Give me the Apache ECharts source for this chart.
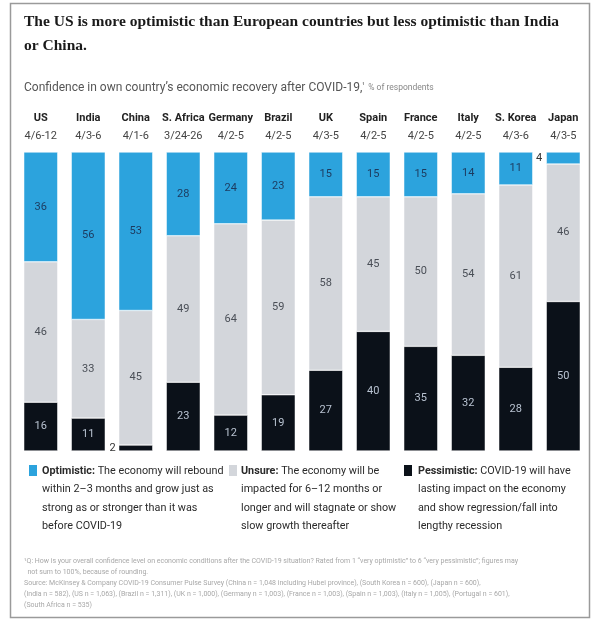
<!DOCTYPE html>
<html><head><meta charset="utf-8">
<script src="https://cdn.jsdelivr.net/npm/echarts@6/dist/echarts.min.js"></script>
<style>html,body{margin:0;padding:0;background:#fff}#c{width:597px;height:621px}</style>
</head><body><div id="c"></div>
<script>
const countries = ['US','India','China','S. Africa','Germany','Brazil','UK','Spain','France','Italy','S. Korea','Japan'];
const dates = ['4/6-12','4/3-6','4/1-6','3/24-26','4/2-5','4/2-5','4/3-5','4/2-5','4/2-5','4/2-5','4/3-6','4/3-5'];
const optimistic = [36,56,53,28,24,23,15,15,15,14,11,4];
const unsure = [46,33,45,49,64,59,58,45,50,54,61,46];
const pessimistic = [16,11,2,23,12,19,27,40,35,32,28,50];

const totals = countries.map((c,i)=>optimistic[i]+unsure[i]+pessimistic[i]);
const COL = {opt:'#2ca3dd', uns:'#d3d6db', pes:'#0b1119'};
const FONT = 'Roboto, "Noto Sans", sans-serif';

function build(arr, smallLabel){
  return arr.map((v,i)=>{
    const item = {value: v/totals[i]*100, raw: v};
    if (v < 5) item.label = Object.assign({position:'left', color:'#333'}, smallLabel);
    return item;
  });
}
function lbl(color){
  return {show:true, position:'inside', color:color, fontSize:11, fontFamily:FONT,
    formatter: p => p.data.raw};
}
const LEG_FONT = 10.8;
function legText(x, y, txt){
  return {type:'text', left:x, top:y, style:{text:txt,
    font:LEG_FONT+'px '+FONT, fill:'#2a2a2a', lineHeight:18.5,
    rich:{b:{fontWeight:'bold', fontSize:LEG_FONT, fontFamily:FONT, fill:'#2a2a2a', lineHeight:18.5}}}};
}

const chart = echarts.init(document.getElementById('c'), null, {renderer:'canvas'});
const option = {
  backgroundColor:'#fff',
  animation:false,
  grid:{left:17, right:10, top:152, bottom:170},
  xAxis:{type:'category', position:'top', data:countries,
    axisLine:{show:false}, axisTick:{show:false},
    axisLabel:{margin:7, interval:0, lineHeight:18,
      formatter:(v,i)=>'{n|'+v+'}\n{d|'+dates[i]+'}',
      rich:{n:{fontSize:11, fontWeight:'bold', color:'#222', fontFamily:FONT, lineHeight:18},
            d:{fontSize:11, color:'#444', fontFamily:FONT, lineHeight:18}}}},
  yAxis:{type:'value', min:0, max:100, show:false},
  series:[
    {name:'Pessimistic', type:'bar', stack:'s', barWidth:34, data:build(pessimistic, {distance:3}),
      itemStyle:{color:COL.pes, borderColor:'#fff', borderWidth:0.5}, label:lbl('#b9c3d1')},
    {name:'Unsure', type:'bar', stack:'s', barWidth:34, data:build(unsure, {distance:5}),
      itemStyle:{color:COL.uns, borderColor:'#fff', borderWidth:0.5}, label:lbl('#4a4f57')},
    {name:'Optimistic', type:'bar', stack:'s', barWidth:34, data:build(optimistic, {distance:4}),
      itemStyle:{color:COL.opt, borderColor:'#fff', borderWidth:0.5}, label:lbl('#1d3a5e')}
  ],
  graphic:[
    {type:'rect', shape:{x:10.5, y:3.5, width:579, height:614}, style:{fill:'none', stroke:'#9a9a9a', lineWidth:1.5}, silent:true, z:-1},
    {type:'text', left:24, top:10, style:{text:'The US is more optimistic than European countries but less optimistic than India\nor China.',
      font:'bold 15.5px "Liberation Serif", "DejaVu Serif", serif', fill:'#1a1a1a', lineHeight:24}},
    {type:'text', left:24, top:82, style:{text:'{a|Confidence in own country\u2019s economic recovery after COVID-19,}{s|\u00b9} {b|% of respondents}',
      rich:{a:{fontSize:12, fontFamily:FONT, fill:'#555'}, s:{fontSize:7, fontFamily:FONT, fill:'#555', verticalAlign:'top'}, b:{fontSize:8.5, fontFamily:FONT, fill:'#888'}}}},
    // legend
    {type:'rect', shape:{x:29, y:465, width:8, height:11}, style:{fill:COL.opt}},
    legText(42, 462, '{b|Optimistic:} The economy will rebound\nwithin 2\u20133 months and grow just as\nstrong as or stronger than it was\nbefore COVID-19'),
    {type:'rect', shape:{x:229, y:465, width:8, height:11}, style:{fill:COL.uns}},
    legText(241, 462, '{b|Unsure:} The economy will be\nimpacted for 6\u201312 months or\nlonger and will stagnate or show\nslow growth thereafter'),
    {type:'rect', shape:{x:404, y:465, width:8, height:11}, style:{fill:COL.pes}},
    legText(418, 462, '{b|Pessimistic:} COVID-19 will have\nlasting impact on the economy\nand show regression/fall into\nlengthy recession'),
    // footnotes
    {type:'text', left:24, top:556, style:{text:'\u00b9Q: How is your overall confidence level on economic conditions after the COVID-19 situation? Rated from 1 \u201cvery optimistic\u201d to 6 \u201cvery pessimistic\u201d; figures may\n  not sum to 100%, because of rounding.\nSource: McKinsey & Company COVID-19 Consumer Pulse Survey (China n = 1,048 including Hubei province), (South Korea n = 600), (Japan n = 600),\n(India n = 582), (US n = 1,063), (Brazil n = 1,311), (UK n = 1,000), (Germany n = 1,003), (France n = 1,003), (Spain n = 1,003), (Italy n = 1,005), (Portugal n = 601),\n(South Africa n = 535)',
      font:'7px '+FONT, fill:'#a8a8a8', lineHeight:11}}
  ]
};
chart.setOption(option);
</script></body></html>
